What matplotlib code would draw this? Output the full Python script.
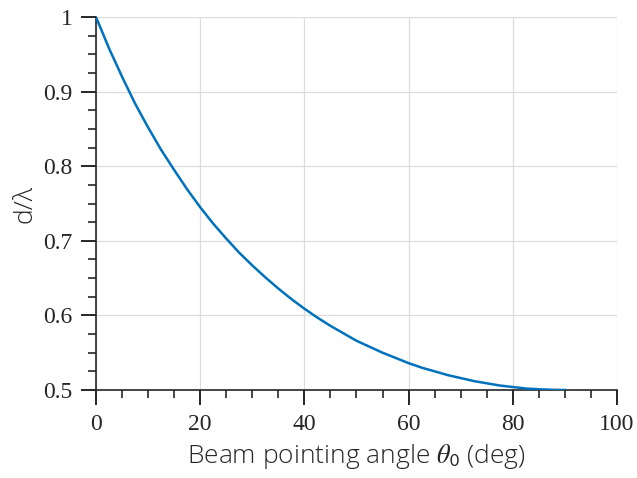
import numpy as np
import matplotlib.pyplot as plt
from matplotlib.ticker import MultipleLocator

# values
theta = [0, 2.5, 5, 7.5, 10, 12.5, 15, 17.5, 20, 22.5, 25, 27.5, 30, 32.5, 35, 37.5,
         40, 42.5, 45, 47.5, 50, 52.5, 55, 57.5, 60, 62.5, 65, 67.5, 70, 72.5, 75,
         77.5, 80, 82.5, 85, 87.5, 90]
d_lambda = [1.000, 0.958, 0.920, 0.884, 0.852, 0.822, 0.795, 0.769, 0.745, 0.723,
            0.703, 0.684, 0.667, 0.651, 0.636, 0.622, 0.609, 0.597, 0.586, 0.576,
            0.566, 0.558, 0.550, 0.543, 0.536, 0.530, 0.525, 0.520, 0.516, 0.512,
            0.509, 0.506, 0.504, 0.502, 0.501, 0.5003, 0.500]

plt.rcParams['font.family'] = 'Liberation Serif'
plt.rcParams['mathtext.fontset'] = 'stix'

fig = plt.figure(figsize=(6.37, 4.78), dpi=100)
ax = fig.add_axes([0.1507, 0.1841, 0.8179, 0.7803])

ax.plot(theta, d_lambda, color='#0072BD', lw=1.8, zorder=3)

ax.set_xlim(0, 100)
ax.set_ylim(0.5, 1)
ax.xaxis.set_major_locator(MultipleLocator(20))
ax.xaxis.set_minor_locator(MultipleLocator(5))
ax.yaxis.set_minor_locator(MultipleLocator(0.025))
ax.set_yticks([0.5, 0.6, 0.7, 0.8, 0.9, 1.0])
ax.set_yticklabels(['0.5', '0.6', '0.7', '0.8', '0.9', '1'])

ax.grid(True, which='major', color='#dcdcdc', lw=0.9)
ax.set_axisbelow(True)
for s in ['top', 'right']:
    ax.spines[s].set_visible(False)
for s in ['left', 'bottom']:
    ax.spines[s].set_color('#262626')
    ax.spines[s].set_linewidth(1.2)

ax.tick_params(which='major', direction='out', length=11, width=1.4, color='#262626',
               labelsize=17, labelcolor='#262626', pad=6)
ax.tick_params(which='minor', direction='out', length=6, width=1.2, color='#262626')

ax.set_xlabel(r'Beam pointing angle $\theta_{\mathsf{0}}$ (deg)', fontsize=19,
              family='Open Sans', fontweight='light', color='#262626', labelpad=5)
ax.set_ylabel('d/λ', fontsize=19, family='Open Sans', fontweight='light',
              color='#262626', labelpad=4)

fig.savefig('out.png', dpi=100)
